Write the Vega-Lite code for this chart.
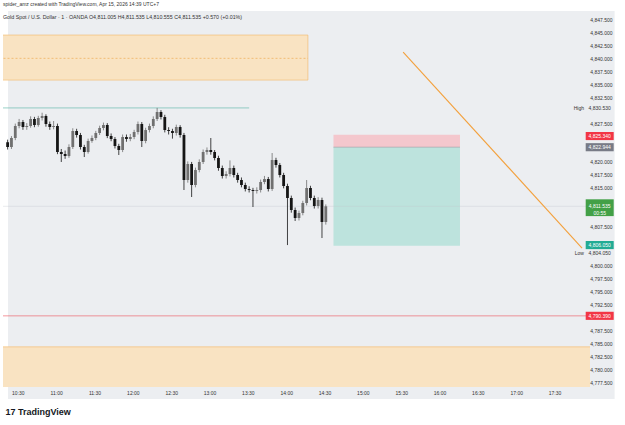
{
  "$schema": "https://vega.github.io/schema/vega-lite/v6.json",
  "width": 587,
  "height": 376,
  "autosize": {"type": "none"},
  "padding": {"left": 3, "top": 11, "right": 35, "bottom": 38},
  "background": "#ffffff",
  "config": {"font": "Liberation Sans", "view": {"stroke": null}, "axis": {"zindex": 2}},
  "resolve": {"scale": {"color": "independent", "stroke": "independent", "strokeDash": "independent", "shape": "independent"}},
  "title": {
    "text": "spider_amz created with TradingView.com, Apr 15, 2026 14:39 UTC+7",
    "subtitle": "\u00a0\u00a0Gold Spot / U.S. Dollar · 1 · OANDA   O4,811.005  H4,811.535  L4,810.555  C4,811.535  +0.570 (+0.01%)",
    "anchor": "start",
    "frame": "group",
    "fontSize": 5,
    "fontWeight": "normal",
    "color": "#333333",
    "subtitleFontSize": 5.3,
    "subtitleColor": "#333333",
    "subtitlePadding": 8,
    "offset": -9
  },
  "datasets": {
    "panel": [{"t1": "2026-04-15T10:22:18", "t2": "2026-04-15T18:17:00", "p1": 4849.24, "p2": 4774.33}],
    "yticks": [
      {"p": 4847.5}, {"p": 4845}, {"p": 4842.5}, {"p": 4840}, {"p": 4837.5}, {"p": 4835}, {"p": 4832.5},
      {"p": 4827.5}, {"p": 4820}, {"p": 4817.5}, {"p": 4815}, {"p": 4807.5}, {"p": 4800}, {"p": 4797.5},
      {"p": 4795}, {"p": 4792.5}, {"p": 4787.5}, {"p": 4785}, {"p": 4782.5}, {"p": 4780}, {"p": 4777.5}
    ],
    "zones": [
      {"t1": "2026-04-15T10:00:00", "t2": "2026-04-15T14:17:00", "p1": 4844.6, "p2": 4835.9, "k": "zone"},
      {"t1": "2026-04-15T10:00:00", "t2": "2026-04-15T18:30:00", "p1": 4784.4, "p2": 4770.0, "k": "zone"},
      {"t1": "2026-04-15T14:37:00", "t2": "2026-04-15T16:16:00", "p1": 4825.34, "p2": 4822.944, "k": "stop"},
      {"t1": "2026-04-15T14:37:00", "t2": "2026-04-15T16:16:00", "p1": 4822.944, "p2": 4803.9, "k": "target"}
    ],
    "hlines": [
      {"t1": "2026-04-15T10:00:00", "t2": "2026-04-15T13:31:00", "p": 4830.53, "k": "high"},
      {"t1": "2026-04-15T10:00:00", "t2": "2026-04-15T18:30:00", "p": 4790.39, "k": "red"},
      {"t1": "2026-04-15T10:00:00", "t2": "2026-04-15T18:30:00", "p": 4811.535, "k": "last"},
      {"t1": "2026-04-15T10:00:00", "t2": "2026-04-15T14:17:00", "p": 4840.1, "k": "mid"},
      {"t1": "2026-04-15T14:37:00", "t2": "2026-04-15T16:16:00", "p": 4822.944, "k": "entry"}
    ],
    "trend": [
      {"t": "2026-04-15T15:31:31", "p": 4841.32},
      {"t": "2026-04-15T17:51:31", "p": 4803.48}
    ],
    "badges": [
      {"p": 4825.1, "label": "4,825.340", "k": "stop"},
      {"p": 4822.944, "label": "4,822.944", "k": "entry"},
      {"p": 4811.535, "label": ["4,811.535", "00:55"], "k": "last"},
      {"p": 4804.05, "label": "4,806.050", "k": "target"},
      {"p": 4790.39, "label": "4,790.390", "k": "red"}
    ],
    "hl": [
      {"p": 4830.53, "name": "High", "val": "4,830.530"},
      {"p": 4804.05, "name": "Low", "val": "4,804.050"}
    ],
    "candles": [
      {"t": "2026-04-15T10:22:00", "o": 4823.9, "h": 4824.4, "l": 4822.5, "c": 4822.98},
      {"t": "2026-04-15T10:25:00", "o": 4822.98, "h": 4825.1, "l": 4822.6, "c": 4824.72},
      {"t": "2026-04-15T10:28:00", "o": 4824.72, "h": 4827.5, "l": 4824.3, "c": 4827.04},
      {"t": "2026-04-15T10:31:00", "o": 4827.04, "h": 4828.4, "l": 4826.6, "c": 4827.81},
      {"t": "2026-04-15T10:34:00", "o": 4827.81, "h": 4828.2, "l": 4826.3, "c": 4826.84},
      {"t": "2026-04-15T10:37:00", "o": 4826.84, "h": 4827.6, "l": 4826.3, "c": 4827.04},
      {"t": "2026-04-15T10:40:00", "o": 4827.04, "h": 4828.9, "l": 4826.7, "c": 4828.39},
      {"t": "2026-04-15T10:43:00", "o": 4828.39, "h": 4828.8, "l": 4826.8, "c": 4827.23},
      {"t": "2026-04-15T10:46:00", "o": 4827.23, "h": 4829.0, "l": 4826.9, "c": 4828.58},
      {"t": "2026-04-15T10:49:00", "o": 4828.58, "h": 4829.6, "l": 4828.1, "c": 4828.97},
      {"t": "2026-04-15T10:52:00", "o": 4828.97, "h": 4829.3, "l": 4826.9, "c": 4827.42},
      {"t": "2026-04-15T10:55:00", "o": 4827.42, "h": 4827.9, "l": 4826.3, "c": 4826.84},
      {"t": "2026-04-15T10:58:00", "o": 4826.84, "h": 4828.0, "l": 4826.4, "c": 4827.04},
      {"t": "2026-04-15T11:01:00", "o": 4827.04, "h": 4827.5, "l": 4821.6, "c": 4822.02},
      {"t": "2026-04-15T11:04:00", "o": 4822.02, "h": 4822.6, "l": 4820.09, "c": 4821.63},
      {"t": "2026-04-15T11:07:00", "o": 4821.63, "h": 4822.3, "l": 4820.7, "c": 4821.25},
      {"t": "2026-04-15T11:10:00", "o": 4821.25, "h": 4823.5, "l": 4820.9, "c": 4822.98},
      {"t": "2026-04-15T11:13:00", "o": 4822.98, "h": 4826.6, "l": 4822.6, "c": 4826.07},
      {"t": "2026-04-15T11:16:00", "o": 4826.07, "h": 4826.5, "l": 4824.8, "c": 4825.3},
      {"t": "2026-04-15T11:19:00", "o": 4825.3, "h": 4825.7, "l": 4822.5, "c": 4822.98},
      {"t": "2026-04-15T11:22:00", "o": 4822.98, "h": 4823.4, "l": 4821.05, "c": 4822.02},
      {"t": "2026-04-15T11:25:00", "o": 4822.02, "h": 4824.6, "l": 4821.7, "c": 4824.14},
      {"t": "2026-04-15T11:28:00", "o": 4824.14, "h": 4825.2, "l": 4823.8, "c": 4824.72},
      {"t": "2026-04-15T11:31:00", "o": 4824.72, "h": 4826.1, "l": 4824.3, "c": 4825.69},
      {"t": "2026-04-15T11:34:00", "o": 4825.69, "h": 4827.1, "l": 4825.3, "c": 4826.65},
      {"t": "2026-04-15T11:37:00", "o": 4826.65, "h": 4827.7, "l": 4826.2, "c": 4827.23},
      {"t": "2026-04-15T11:40:00", "o": 4827.23, "h": 4827.6, "l": 4824.7, "c": 4825.11},
      {"t": "2026-04-15T11:43:00", "o": 4825.11, "h": 4825.6, "l": 4824.1, "c": 4824.53},
      {"t": "2026-04-15T11:46:00", "o": 4824.53, "h": 4824.9, "l": 4822.7, "c": 4823.18},
      {"t": "2026-04-15T11:49:00", "o": 4823.18, "h": 4823.6, "l": 4821.44, "c": 4822.4},
      {"t": "2026-04-15T11:52:00", "o": 4822.4, "h": 4825.4, "l": 4822.0, "c": 4824.91},
      {"t": "2026-04-15T11:55:00", "o": 4824.91, "h": 4825.4, "l": 4824.0, "c": 4824.53},
      {"t": "2026-04-15T11:58:00", "o": 4824.53, "h": 4825.5, "l": 4824.1, "c": 4824.91},
      {"t": "2026-04-15T12:01:00", "o": 4824.91, "h": 4826.3, "l": 4824.5, "c": 4825.88},
      {"t": "2026-04-15T12:04:00", "o": 4825.88, "h": 4827.9, "l": 4825.4, "c": 4827.42},
      {"t": "2026-04-15T12:07:00", "o": 4827.42, "h": 4827.8, "l": 4822.98, "c": 4824.14},
      {"t": "2026-04-15T12:10:00", "o": 4824.14, "h": 4826.7, "l": 4823.7, "c": 4826.26},
      {"t": "2026-04-15T12:13:00", "o": 4826.26, "h": 4827.5, "l": 4825.8, "c": 4827.04},
      {"t": "2026-04-15T12:16:00", "o": 4827.04, "h": 4828.9, "l": 4826.6, "c": 4828.39},
      {"t": "2026-04-15T12:19:00", "o": 4828.39, "h": 4830.53, "l": 4828.0, "c": 4829.74},
      {"t": "2026-04-15T12:22:00", "o": 4829.74, "h": 4830.1, "l": 4828.3, "c": 4828.77},
      {"t": "2026-04-15T12:25:00", "o": 4828.77, "h": 4829.2, "l": 4825.8, "c": 4826.26},
      {"t": "2026-04-15T12:28:00", "o": 4826.26, "h": 4826.8, "l": 4825.4, "c": 4826.07},
      {"t": "2026-04-15T12:31:00", "o": 4826.07, "h": 4826.5, "l": 4824.6, "c": 4825.69},
      {"t": "2026-04-15T12:34:00", "o": 4825.69, "h": 4827.3, "l": 4825.2, "c": 4826.84},
      {"t": "2026-04-15T12:37:00", "o": 4826.84, "h": 4827.2, "l": 4824.8, "c": 4825.3},
      {"t": "2026-04-15T12:40:00", "o": 4825.3, "h": 4825.7, "l": 4814.68, "c": 4816.61},
      {"t": "2026-04-15T12:43:00", "o": 4816.61, "h": 4820.2, "l": 4816.1, "c": 4819.7},
      {"t": "2026-04-15T12:46:00", "o": 4819.7, "h": 4820.1, "l": 4813.33, "c": 4815.65},
      {"t": "2026-04-15T12:49:00", "o": 4815.65, "h": 4819.0, "l": 4815.2, "c": 4818.54},
      {"t": "2026-04-15T12:52:00", "o": 4818.54, "h": 4820.6, "l": 4818.1, "c": 4820.09},
      {"t": "2026-04-15T12:55:00", "o": 4820.09, "h": 4822.5, "l": 4819.7, "c": 4822.02},
      {"t": "2026-04-15T12:58:00", "o": 4822.02, "h": 4822.9, "l": 4821.5, "c": 4822.4},
      {"t": "2026-04-15T13:01:00", "o": 4822.4, "h": 4824.72, "l": 4821.5, "c": 4822.02},
      {"t": "2026-04-15T13:04:00", "o": 4822.02, "h": 4822.4, "l": 4820.4, "c": 4820.86},
      {"t": "2026-04-15T13:07:00", "o": 4820.86, "h": 4821.3, "l": 4818.4, "c": 4818.93},
      {"t": "2026-04-15T13:10:00", "o": 4818.93, "h": 4819.4, "l": 4816.9, "c": 4817.38},
      {"t": "2026-04-15T13:13:00", "o": 4817.38, "h": 4818.3, "l": 4816.9, "c": 4817.77},
      {"t": "2026-04-15T13:16:00", "o": 4817.77, "h": 4820.4, "l": 4817.3, "c": 4818.93},
      {"t": "2026-04-15T13:19:00", "o": 4818.93, "h": 4819.4, "l": 4817.1, "c": 4817.58},
      {"t": "2026-04-15T13:22:00", "o": 4817.58, "h": 4818.0, "l": 4816.1, "c": 4816.61},
      {"t": "2026-04-15T13:25:00", "o": 4816.61, "h": 4817.1, "l": 4815.2, "c": 4815.65},
      {"t": "2026-04-15T13:28:00", "o": 4815.65, "h": 4816.1, "l": 4814.4, "c": 4814.87},
      {"t": "2026-04-15T13:31:00", "o": 4814.87, "h": 4815.4, "l": 4814.2, "c": 4814.68},
      {"t": "2026-04-15T13:34:00", "o": 4814.68, "h": 4815.1, "l": 4811.4, "c": 4814.49},
      {"t": "2026-04-15T13:37:00", "o": 4814.49, "h": 4815.2, "l": 4814.0, "c": 4814.68},
      {"t": "2026-04-15T13:40:00", "o": 4814.68, "h": 4816.7, "l": 4814.2, "c": 4816.23},
      {"t": "2026-04-15T13:43:00", "o": 4816.23, "h": 4817.4, "l": 4815.8, "c": 4816.8},
      {"t": "2026-04-15T13:46:00", "o": 4816.8, "h": 4817.2, "l": 4814.4, "c": 4814.87},
      {"t": "2026-04-15T13:49:00", "o": 4814.87, "h": 4821.82, "l": 4814.5, "c": 4820.47},
      {"t": "2026-04-15T13:52:00", "o": 4820.47, "h": 4820.9, "l": 4819.0, "c": 4819.51},
      {"t": "2026-04-15T13:55:00", "o": 4819.51, "h": 4819.9, "l": 4817.1, "c": 4817.58},
      {"t": "2026-04-15T13:58:00", "o": 4817.58, "h": 4818.0, "l": 4815.0, "c": 4815.45},
      {"t": "2026-04-15T14:01:00", "o": 4815.45, "h": 4815.9, "l": 4804.05, "c": 4813.14},
      {"t": "2026-04-15T14:04:00", "o": 4813.14, "h": 4813.6, "l": 4810.3, "c": 4810.82},
      {"t": "2026-04-15T14:07:00", "o": 4810.82, "h": 4811.3, "l": 4808.7, "c": 4809.28},
      {"t": "2026-04-15T14:10:00", "o": 4809.28, "h": 4810.7, "l": 4808.8, "c": 4810.24},
      {"t": "2026-04-15T14:13:00", "o": 4810.24, "h": 4812.6, "l": 4809.8, "c": 4812.17},
      {"t": "2026-04-15T14:16:00", "o": 4812.17, "h": 4816.61, "l": 4811.7, "c": 4815.07},
      {"t": "2026-04-15T14:19:00", "o": 4815.07, "h": 4815.5, "l": 4812.7, "c": 4813.14},
      {"t": "2026-04-15T14:22:00", "o": 4813.14, "h": 4813.6, "l": 4811.1, "c": 4811.59},
      {"t": "2026-04-15T14:25:00", "o": 4811.59, "h": 4813.3, "l": 4811.1, "c": 4812.75},
      {"t": "2026-04-15T14:28:00", "o": 4812.75, "h": 4813.2, "l": 4805.41, "c": 4808.5},
      {"t": "2026-04-15T14:31:00", "o": 4808.5, "h": 4811.9, "l": 4808.0, "c": 4811.535}
    ]
  },
  "layer": [
    {
      "data": {"name": "panel"},
      "mark": {"type": "rect", "clip": false, "color": "#eceef1"},
      "encoding": {
        "x": {"field": "t1", "type": "temporal"},
        "x2": {"field": "t2"},
        "y": {"field": "p1", "type": "quantitative", "axis": null},
        "y2": {"field": "p2"}
      }
    },
    {
      "data": {"name": "zones"},
      "mark": {"type": "rect", "clip": true, "stroke": "#f2b766"},
      "encoding": {
        "x": {"field": "t1", "type": "temporal"},
        "x2": {"field": "t2"},
        "y": {"field": "p1", "type": "quantitative", "axis": null},
        "y2": {"field": "p2"},
        "color": {"field": "k", "type": "nominal", "legend": null,
          "scale": {"domain": ["zone", "stop", "target"], "range": ["#f9e3c2", "#f4c7cd", "#bde3dd"]}},
        "opacity": {"value": 1},
        "strokeWidth": {"condition": {"test": "datum.k === 'zone'", "value": 0.6}, "value": 0}
      }
    },
    {
      "data": {"name": "hlines"},
      "mark": {"type": "rule", "clip": true, "strokeWidth": 0.7},
      "encoding": {
        "x": {"field": "t1", "type": "temporal"},
        "x2": {"field": "t2"},
        "y": {"field": "p", "type": "quantitative", "axis": null},
        "stroke": {"field": "k", "type": "nominal", "legend": null,
          "scale": {"domain": ["high", "red", "last", "mid", "entry"], "range": ["#5bb5a7", "#ee5a64", "#c3c6cc", "#efae55", "#9aa0a8"]}},
        "strokeDash": {"field": "k", "type": "nominal", "legend": null,
          "scale": {"domain": ["high", "red", "last", "mid", "entry"], "range": [[1, 0], [1, 0], [1, 1], [2, 2], [1, 0]]}}
      }
    },
    {
      "data": {"name": "candles"},
      "encoding": {
        "x": {
          "field": "t", "type": "temporal",
          "scale": {"domain": [
            {"year": 2026, "month": 4, "date": 15, "hours": 10, "minutes": 22, "seconds": 18},
            {"year": 2026, "month": 4, "date": 15, "hours": 17, "minutes": 53, "seconds": 50}
          ]},
          "axis": {
            "zindex": 2,
            "title": "17 TradingView",
            "titleFontSize": 9,
            "titleFontWeight": "bold",
            "titleColor": "#131722",
            "titleAnchor": "start",
            "titleAlign": "left",
            "titleBaseline": "middle",
            "titleX": 2,
            "titleY": 24,
            "values": [
              {"year": 2026, "month": 4, "date": 15, "hours": 10, "minutes": 30},
              {"year": 2026, "month": 4, "date": 15, "hours": 11, "minutes": 0},
              {"year": 2026, "month": 4, "date": 15, "hours": 11, "minutes": 30},
              {"year": 2026, "month": 4, "date": 15, "hours": 12, "minutes": 0},
              {"year": 2026, "month": 4, "date": 15, "hours": 12, "minutes": 30},
              {"year": 2026, "month": 4, "date": 15, "hours": 13, "minutes": 0},
              {"year": 2026, "month": 4, "date": 15, "hours": 13, "minutes": 30},
              {"year": 2026, "month": 4, "date": 15, "hours": 14, "minutes": 0},
              {"year": 2026, "month": 4, "date": 15, "hours": 14, "minutes": 30},
              {"year": 2026, "month": 4, "date": 15, "hours": 15, "minutes": 0},
              {"year": 2026, "month": 4, "date": 15, "hours": 15, "minutes": 30},
              {"year": 2026, "month": 4, "date": 15, "hours": 16, "minutes": 0},
              {"year": 2026, "month": 4, "date": 15, "hours": 16, "minutes": 30},
              {"year": 2026, "month": 4, "date": 15, "hours": 17, "minutes": 0},
              {"year": 2026, "month": 4, "date": 15, "hours": 17, "minutes": 30}
            ],
            "format": "%H:%M",
            "labelFontSize": 5,
            "labelColor": "#333333",
            "labelPadding": 3,
            "labelOverlap": false,
            "ticks": false,
            "domain": false,
            "grid": false
          }
        },
        "color": {"condition": {"test": "datum.c >= datum.o", "value": "#707070"}, "value": "#151515"}
      },
      "layer": [
        {
          "mark": {"type": "rule", "strokeWidth": 0.8},
          "encoding": {
            "y": {
              "field": "l", "type": "quantitative",
              "scale": {"domain": [4776.65, 4849.24], "zero": false, "nice": false},
              "axis": null
            },
            "y2": {"field": "h"}
          }
        },
        {
          "mark": {"type": "bar", "size": 2.8},
          "encoding": {
            "y": {"field": "o", "type": "quantitative", "axis": null},
            "y2": {"field": "c"}
          }
        }
      ]
    },
    {
      "data": {"name": "trend"},
      "mark": {"type": "line", "color": "#f3a03c", "strokeWidth": 1.1},
      "encoding": {
        "x": {"field": "t", "type": "temporal"},
        "y": {"field": "p", "type": "quantitative", "axis": null}
      }
    },
    {
      "data": {"name": "yticks"},
      "mark": {"type": "text", "fontSize": 5, "color": "#333333", "align": "right", "baseline": "middle", "clip": false},
      "encoding": {
        "x": {"datum": {"year": 2026, "month": 4, "date": 15, "hours": 18, "minutes": 15, "seconds": 20}, "type": "temporal"},
        "y": {"field": "p", "type": "quantitative", "axis": null},
        "text": {"field": "p", "type": "quantitative", "format": ",.3f"}
      }
    },
    {
      "data": {"name": "badges"},
      "mark": {"type": "point", "filled": true, "opacity": 1, "size": 784, "clip": false},
      "encoding": {
        "x": {"datum": {"year": 2026, "month": 4, "date": 15, "hours": 18, "minutes": 5, "seconds": 20}, "type": "temporal"},
        "y": {"field": "p", "type": "quantitative", "axis": null},
        "color": {"field": "k", "type": "nominal", "legend": null,
          "scale": {"domain": ["stop", "entry", "last", "target", "red"], "range": ["#f23645", "#787b86", "#43a047", "#22ab94", "#f23645"]}},
        "shape": {"field": "k", "type": "nominal", "legend": null,
          "scale": {"domain": ["stop", "entry", "last", "target", "red"], "range": ["M-1,-0.29H1V0.29H-1Z", "M-1,-0.29H1V0.29H-1Z", "M-1,-0.5H1V0.7H-1Z", "M-1,-0.29H1V0.29H-1Z", "M-1,-0.29H1V0.29H-1Z"]}}
      }
    },
    {
      "data": {"name": "badges"},
      "mark": {"type": "text", "fontSize": 5, "color": "#ffffff", "align": "center", "baseline": "middle", "lineHeight": 7, "clip": false},
      "encoding": {
        "x": {"datum": {"year": 2026, "month": 4, "date": 15, "hours": 18, "minutes": 5, "seconds": 20}, "type": "temporal"},
        "y": {"field": "p", "type": "quantitative", "axis": null},
        "text": {"field": "label"}
      }
    },
    {
      "data": {"name": "hl"},
      "transform": [{"filter": "datum.name === 'High'"}],
      "layer": [
        {
          "mark": {"type": "text", "fontSize": 5, "color": "#333333", "align": "right", "baseline": "middle", "dx": -1, "clip": false},
          "encoding": {
            "x": {"datum": {"year": 2026, "month": 4, "date": 15, "hours": 17, "minutes": 53, "seconds": 50}, "type": "temporal"},
            "y": {"field": "p", "type": "quantitative", "axis": null},
            "text": {"field": "name"}
          }
        },
        {
          "mark": {"type": "text", "fontSize": 5, "color": "#333333", "align": "center", "baseline": "middle", "clip": false},
          "encoding": {
            "x": {"datum": {"year": 2026, "month": 4, "date": 15, "hours": 18, "minutes": 5, "seconds": 20}, "type": "temporal"},
            "y": {"field": "p", "type": "quantitative", "axis": null},
            "text": {"field": "val"}
          }
        }
      ]
    },
    {
      "data": {"name": "hl"},
      "transform": [{"filter": "datum.name === 'Low'"}],
      "layer": [
        {
          "mark": {"type": "text", "fontSize": 5, "color": "#333333", "align": "right", "baseline": "middle", "dx": -1, "dy": 8, "clip": false},
          "encoding": {
            "x": {"datum": {"year": 2026, "month": 4, "date": 15, "hours": 17, "minutes": 53, "seconds": 50}, "type": "temporal"},
            "y": {"field": "p", "type": "quantitative", "axis": null},
            "text": {"field": "name"}
          }
        },
        {
          "mark": {"type": "text", "fontSize": 5, "color": "#333333", "align": "center", "baseline": "middle", "dy": 8, "clip": false},
          "encoding": {
            "x": {"datum": {"year": 2026, "month": 4, "date": 15, "hours": 18, "minutes": 5, "seconds": 20}, "type": "temporal"},
            "y": {"field": "p", "type": "quantitative", "axis": null},
            "text": {"field": "val"}
          }
        }
      ]
    }
  ]
}
